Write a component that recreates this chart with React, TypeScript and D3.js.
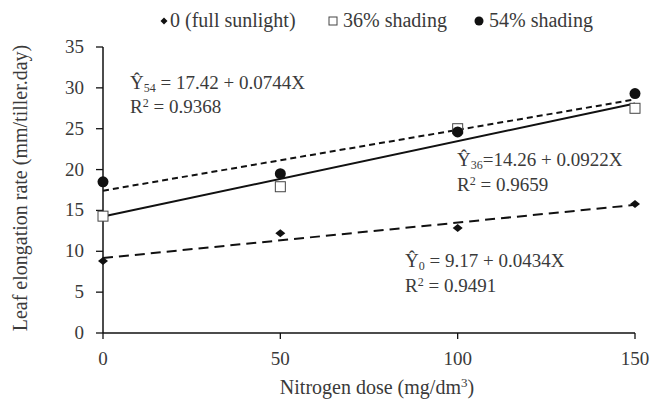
import React from "react";
import * as d3 from "d3";

const doses = [0, 50, 100, 150];
const full = [8.8, 12.2, 12.85, 15.8];
const shade36 = [14.3, 17.9, 25.0, 27.5];
const shade54 = [18.5, 19.5, 24.6, 29.3];
const xTicks = [0, 50, 100, 150];
const yTicks = [0, 5, 10, 15, 20, 25, 30, 35];
const fits = [
  { key: "0", a: 9.17, b: 0.0434, dash: "10,6" },
  { key: "36", a: 14.26, b: 0.0922, dash: "" },
  { key: "54", a: 17.42, b: 0.0744, dash: "6,4" },
];

const W = 652, H = 405;
const FONT = "Liberation Serif, Times New Roman, Times, serif";
const TXT = "#3a3a3a";

export default function App() {
  const x = d3.scaleLinear().domain([0, 150]).range([103, 635]);
  const y = d3.scaleLinear().domain([0, 35]).range([333, 47]);

  const diamond = "M0,-4L5,0L0,4L-5,0Z";
  const fs = 19;
  const st = { fontFamily: FONT };

  return (
    <svg width={W} height={H} style={{ position: "absolute", left: 0, top: 0, background: "#fff", fontFamily: FONT }}>
      {/* axes */}
      <line x1={x(0)} x2={x(150)} y1={y(0)} y2={y(0)} stroke="#111" strokeWidth={1.5} />
      <line x1={x(0)} x2={x(0)} y1={y(0)} y2={y(35)} stroke="#111" strokeWidth={1.5} />
      {xTicks.map((t) => (
        <g key={"x" + t}>
          <line x1={x(t)} x2={x(t)} y1={y(0)} y2={y(0) + 6} stroke="#111" strokeWidth={1.3} />
          <text style={st} x={x(t)} y={365} textAnchor="middle" fontSize={19} fill={TXT}>{t}</text>
        </g>
      ))}
      {yTicks.map((t) => (
        <g key={"y" + t}>
          <line x1={x(0) - 7} x2={x(0)} y1={y(t)} y2={y(t)} stroke="#111" strokeWidth={1.3} />
          <text style={st} x={84} y={y(t) + 6} textAnchor="end" fontSize={19} fill={TXT}>{t}</text>
        </g>
      ))}
      <text style={st} x={377} y={394} textAnchor="middle" fontSize={20} fill={TXT}>
        Nitrogen dose (mg/dm<tspan dy={-7} fontSize={13}>3</tspan><tspan dy={7}>)</tspan>
      </text>
      <text style={st} transform={`translate(27,${188}) rotate(-90)`} textAnchor="middle" fontSize={20} fill={TXT}>
        Leaf elongation rate (mm/tiller.day)
      </text>

      {/* fit lines */}
      {fits.map((f) => (
        <line key={f.key} x1={x(0)} x2={x(150)} y1={y(f.a)} y2={y(f.a + f.b * 150)}
          stroke="#111" strokeWidth={2} strokeDasharray={f.dash || undefined} />
      ))}

      {/* points */}
      {doses.map((d, i) => (
        <path key={"f" + i} d={diamond} transform={`translate(${x(d)},${y(full[i])})`} fill="#111" />
      ))}
      {doses.map((d, i) => (
        <rect key={"s" + i} x={x(d) - 5} y={y(shade36[i]) - 5} width={10} height={10} fill="#fff" stroke="#444" strokeWidth={1} />
      ))}
      {doses.map((d, i) => (
        <circle key={"c" + i} cx={x(d)} cy={y(shade54[i])} r={5.5} fill="#111" />
      ))}

      {/* annotations */}
      <g fontSize={fs} fill={TXT} style={st}>
        <text x={130} y={89}>Ŷ<tspan dy={3} fontSize={12}>54</tspan><tspan dy={-3}> = 17.42 + 0.0744X</tspan></text>
        <text x={130} y={113}>R<tspan dy={-6} fontSize={12}>2</tspan><tspan dy={6}> = 0.9368</tspan></text>
        <text x={457} y={166}>Ŷ<tspan dy={3} fontSize={12}>36</tspan><tspan dy={-3}>=14.26 + 0.0922X</tspan></text>
        <text x={457} y={191}>R<tspan dy={-6} fontSize={12}>2</tspan><tspan dy={6}> = 0.9659</tspan></text>
        <text x={405} y={267}>Ŷ<tspan dy={3} fontSize={12}>0</tspan><tspan dy={-3}> = 9.17 + 0.0434X</tspan></text>
        <text x={405} y={292}>R<tspan dy={-6} fontSize={12}>2</tspan><tspan dy={6}> = 0.9491</tspan></text>
      </g>

      {/* legend */}
      <g fontSize={20} fill={TXT} style={st}>
        <path d="M0,-3.5L3.5,0L0,3.5L-3.5,0Z" transform="translate(164,21)" fill="#111" />
        <text x={170} y={27}>0 (full sunlight)</text>
        <rect x={329} y={17} width={8} height={8} fill="#fff" stroke="#444" />
        <text x={343} y={27}>36% shading</text>
        <circle cx={479} cy={21} r={4.5} fill="#111" />
        <text x={489} y={27}>54% shading</text>
      </g>
    </svg>
  );
}
